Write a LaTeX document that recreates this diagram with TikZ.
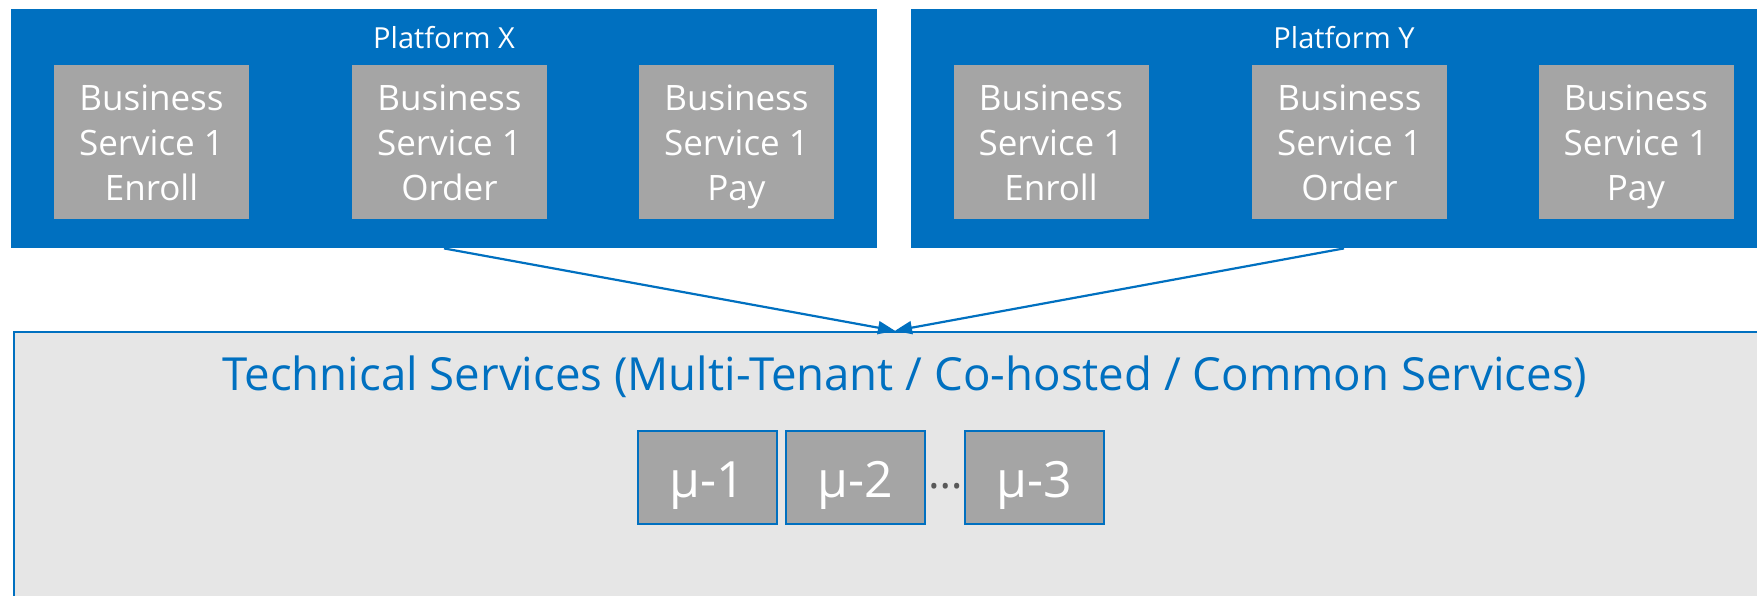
\documentclass[tikz,border=0pt]{standalone}
\usepackage{fontspec}
\setmainfont{Open Sans}
\usetikzlibrary{arrows.meta}
\definecolor{msblue}{HTML}{0070C0}
\definecolor{tilegray}{HTML}{A5A5A5}
\definecolor{panelgray}{HTML}{E6E6E6}
\definecolor{dotgray}{HTML}{595959}

\begin{document}
\begin{tikzpicture}[x=0.5pt,y=-0.5pt,
  platform/.style={fill=msblue, draw=none, inner sep=0pt,
    minimum width=433pt, minimum height=119.5pt},
  platlabel/.style={text=white, font=\fontsize{14.5}{17}\selectfont, anchor=base, inner sep=0pt},
  bustile/.style={fill=tilegray, draw=none, inner sep=0pt,
    minimum width=97.5pt, minimum height=77pt},
  tileline/.style={text=white, font=\fontsize{17.5}{21}\selectfont, anchor=base, inner sep=0pt},
  techpanel/.style={fill=panelgray, draw=msblue, line width=1.25pt, inner sep=0pt,
    minimum width=881pt, minimum height=144pt},
  techtitle/.style={text=msblue, font=\fontsize{22.8}{27}\selectfont, anchor=base, inner sep=0pt},
  microtile/.style={fill=tilegray, draw=msblue, line width=1pt, inner sep=0pt,
    minimum width=69.5pt, minimum height=46.5pt},
  microtext/.style={text=white, font=\fontsize{25}{30}\selectfont, anchor=base, inner sep=0pt},
  conn/.style={draw=msblue, line width=1.1pt, -{Triangle[length=8.5pt,width=6.5pt]}}
]
\clip (0,0) rectangle (1757,595);
\fill[white] (0,0) rectangle (1757,595);

% lower panel with the shared technical services
\node[techpanel] (tech) at (895,476) {};
\node[techtitle] (techlbl) at (905,390)
  {Technical Services (Multi-Tenant / Co-hosted / Common Services)};

% microservice tiles
\node[microtile] (mu1) at (707.5,477.5) {};
\node[microtile] (mu2) at (855.5,477.5) {};
\node[microtile] (mu3) at (1034.5,477.5) {};
\node[microtext] (mu1t) at (707.5,497) {μ-1};
\node[microtext] (mu2t) at (855.5,497) {μ-2};
\node[microtext] (mu3t) at (1034.5,497) {μ-3};
\node[text=dotgray, font=\fontsize{22}{26}\selectfont, anchor=base, inner sep=0pt]
  (dots) at (945.5,488) {…};

% the two platforms, each with three business service tiles
\node[platform] (px) at (444,128.5) {};
\node[platform] (py) at (1344,128.5) {};
\node[platlabel] (pxl) at (444,48) {Platform X};
\node[platlabel] (pyl) at (1344,48) {Platform Y};

\foreach \cx/\nm/\act in {151.5/xa/Enroll, 449.5/xb/Order, 736.5/xc/Pay,
                          1051/ya/Enroll, 1349.5/yb/Order, 1636/yc/Pay} {
  \node[bustile] (\nm) at (\cx,142) {};
  \node[tileline] (\nm-1) at (\cx,110) {Business};
  \node[tileline] (\nm-2) at (\cx,155) {Service 1};
  \node[tileline] (\nm-3) at (\cx,200) {\act};
}

% both platforms call into the technical services
\draw[conn] (px.south) -- (tech.north);
\draw[conn] (py.south) -- (tech.north);
\end{tikzpicture}
\end{document}
